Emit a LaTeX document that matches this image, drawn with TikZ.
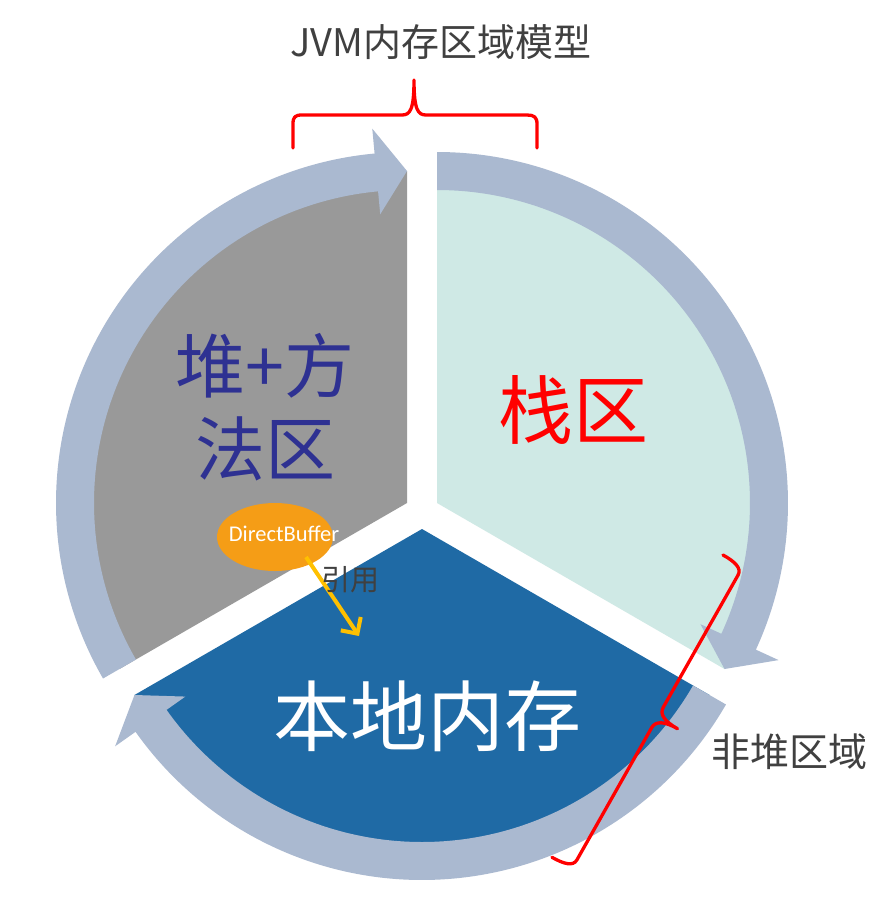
\documentclass[tikz,border=0pt]{standalone}
\usepackage{fontspec}
\setmainfont{Carlito}
\newfontfamily\cjk{Noto Sans CJK SC}
\usetikzlibrary{shapes.geometric,arrows.meta,calc}
\definecolor{ringc}{HTML}{AAB9D0}
\definecolor{heapc}{HTML}{999999}
\definecolor{stackc}{HTML}{CFE9E5}
\definecolor{nativec}{HTML}{1F6AA5}
\definecolor{dbc}{HTML}{F59D16}
\definecolor{refc}{HTML}{FFC000}
\definecolor{navyc}{HTML}{2E3192}
\definecolor{titlec}{HTML}{404040}
\newcommand\ringseg[2]{%
  \fill[ringc] ($(#1)+(#2:313)$) arc[start angle=#2, end angle=#2+114.7, radius=313]
    -- ($(#1)+({#2+114.7}:290)$) -- ($(#1)+({#2+120}:332)$) -- ($(#1)+({#2+114.7}:376)$)
    -- ($(#1)+({#2+114.7}:351)$) arc[start angle=#2+114.7, end angle=#2, radius=351] -- cycle;}
\begin{document}
\begin{tikzpicture}[x=1pt,y=-1pt,
  lbl/.style={inner sep=0pt, font=\cjk},
  bracec/.style={draw=red, line width=3.3pt, line join=round, line cap=round}]
\fill[white] (0,0) rectangle (891,919);
\useasboundingbox (0,0) rectangle (891,919);
\coordinate (G) at (407,503);
\coordinate (S) at (437,503);
\coordinate (N) at (422,529);
% sectors
\fill[heapc] (G) -- ($(G)+(150:332)$) arc[start angle=150, end angle=270, radius=332] -- cycle;
\fill[stackc] (S) -- ($(S)+(270:332)$) arc[start angle=270, end angle=390, radius=332] -- cycle;
\fill[nativec] (N) -- ($(N)+(30:332)$) arc[start angle=30, end angle=150, radius=332] -- cycle;
% circular arrows
\ringseg{G}{150}
\ringseg{S}{270}
\ringseg{N}{30}
% texts
\node[lbl, text=titlec, font=\cjk\fontsize{38}{44}\selectfont] (title) at (441,42) {JVM内存区域模型};
\node[lbl, text=navyc, align=center, font=\cjk\fontsize{70}{83}\selectfont] (heap) at (265,407) {堆+方\\法区};
\node[lbl, text=red, font=\cjk\fontsize{75}{80}\selectfont] (stack) at (573,410) {栈区};
\node[lbl, text=white, font=\cjk\fontsize{77}{80}\selectfont] (native) at (427,716) {本地内存};
\node[lbl, text=titlec, font=\cjk\fontsize{39}{44}\selectfont] (nonheap) at (789,752) {非堆区域};
% DirectBuffer
\node[ellipse, fill=dbc, minimum width=116pt, minimum height=68pt, inner sep=0pt] (db) at (275,537) {};
\node[inner sep=0pt, text=white, font=\fontsize{22.5}{26}\selectfont] (dbt) at (284,534) {DirectBuffer};
\coordinate (refs) at (306,557);
\coordinate (refe) at (359,636);
\draw[refc, line width=4pt, -{Straight Barb[length=12pt,width=24pt]}] (refs) -- (refe);
\node[lbl, text=titlec, font=\cjk\fontsize{29}{32}\selectfont] (ref) at (350,580) {引用};
% top brace
\draw[bracec] (293,148) -- (293,124) .. controls (293,117) and (295,115) .. (302,115)
  -- (402,115) .. controls (410,115) and (414,110) .. (414,80)
  .. controls (414,110) and (418,115) .. (426,115) -- (527,115)
  .. controls (534,115) and (537,117) .. (537,124) -- (537,148);
% right brace
\draw[bracec] (723,555) .. controls (734.3,561.3) and (742,568) .. (738.1,575)
  -- (663.3,707.2) .. controls (659.3,714.2) and (664.5,721.3) .. (677.5,728.7)
  .. controls (664.5,721.3) and (655.7,720.7) .. (651.7,727.6)
  -- (576.9,859.9) .. controls (573,866.8) and (563.3,863.7) .. (552,857.3);
\end{tikzpicture}
\end{document}
